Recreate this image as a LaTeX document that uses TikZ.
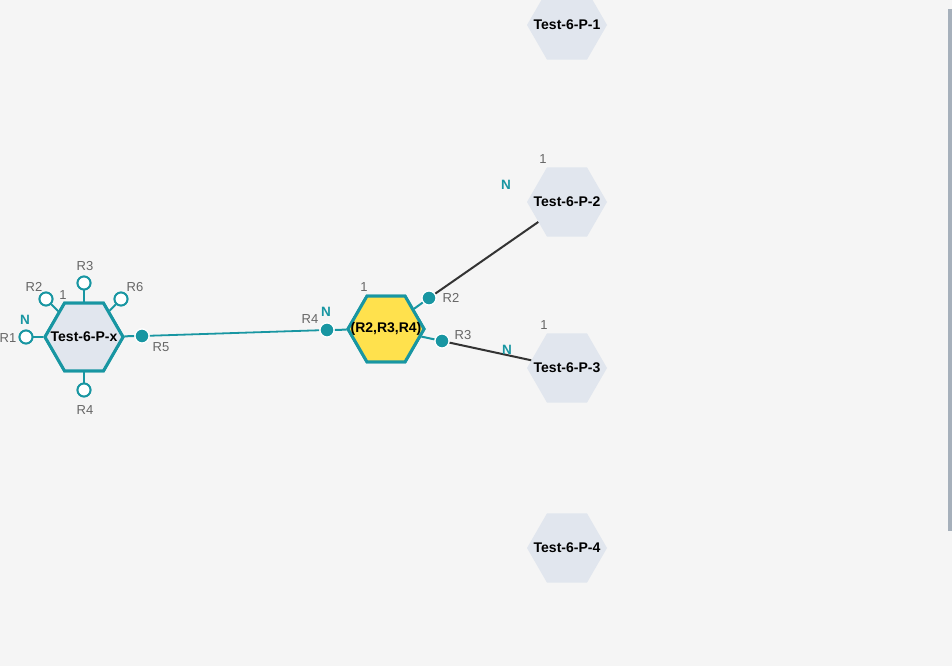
\documentclass[tikz,border=0pt]{standalone}
\usepackage{fontspec}
\setmainfont{Liberation Sans}
\usetikzlibrary{shapes.geometric}
\definecolor{bg}{HTML}{F5F5F5}
\definecolor{teal}{HTML}{1896A2}
\definecolor{hexfill}{HTML}{E1E6EE}
\definecolor{ylw}{HTML}{FFE14D}
\definecolor{graytxt}{HTML}{666666}
\definecolor{linkdark}{HTML}{333333}
\definecolor{scroll}{HTML}{A6B0BB}
\tikzset{
  hexbase/.style={regular polygon, regular polygon sides=6, minimum size=78pt, inner sep=0pt},
  ghosthex/.style={hexbase, fill=hexfill, minimum size=80pt},
  mainhex/.style={hexbase, fill=hexfill, draw=teal, line width=3pt},
  yhex/.style={hexbase, fill=ylw, draw=teal, line width=3pt, minimum size=76pt},
  hextext/.style={font=\fontsize{14}{16}\selectfont\bfseries, text=black, inner sep=0pt},
  pinopen/.style={circle, draw=teal, fill=white, line width=1.9pt, minimum size=13pt, inner sep=0pt},
  pindot/.style={circle, draw=white, fill=teal, line width=1.2pt, minimum size=14pt, inner sep=0pt},
  gtxt/.style={font=\fontsize{13}{15}\selectfont, text=graytxt, inner sep=0pt},
  ntxt/.style={font=\fontsize{13.5}{15}\selectfont\bfseries, text=teal, inner sep=0pt},
  stub/.style={draw=teal, line width=2pt},
  tlink/.style={draw=teal, line width=1.8pt},
  dlink/.style={draw=linkdark, line width=2pt},
}
\begin{document}
\begin{tikzpicture}[x=1pt,y=-1pt]
\fill[bg] (0,0) rectangle (952,666);
\useasboundingbox (0,0) rectangle (952,666);
\fill[scroll] (948,9) rectangle (952,531);

% ghost hexagons
\begin{scope}
\clip (0,0) rectangle (952,666);
\node[ghosthex] (p1) at (567,25) {};
\end{scope}
\node[hextext] at (p1.center) {Test-6-P-1};
\node[ghosthex] (p2) at (567,202) {};
\node[hextext] at (p2.center) {Test-6-P-2};
\node[ghosthex] (p3) at (567,368) {};
\node[hextext] at (p3.center) {Test-6-P-3};
\node[ghosthex] (p4) at (567,548) {};
\node[hextext] at (p4.center) {Test-6-P-4};
\node[gtxt] (p2one) at (543,159) {1};
\node[ntxt] (p2n) at (506,185) {N};
\node[gtxt] (p3one) at (544,325) {1};

% Test-6-P-x
\node[mainhex] (px) at (84,337) {};
\node[pinopen] (r1) at (26,337) {};
\node[pinopen] (r2) at (46,299) {};
\node[pinopen] (r3) at (84,283) {};
\node[pinopen] (r6) at (121,299) {};
\node[pinopen] (r4) at (84,390) {};
\node[pindot] (r5) at (142,336) {};

% yellow hexagon
\node[yhex] (y) at (386,329) {};
\node[pindot] (yr4) at (327,330) {};
\node[pindot] (yr2) at (429,298) {};
\node[pindot] (yr3) at (442,341) {};

% stubs
\draw[stub] (px) -- (r1);
\draw[stub] (px) -- (r2);
\draw[stub] (px) -- (r3);
\draw[stub] (px) -- (r6);
\draw[stub] (px) -- (r4);
\draw[stub] (px) -- (r5);
\draw[stub] (y) -- (yr4);
\draw[stub] (y) -- (yr2);
\draw[stub] (y) -- (yr3);

% links
\draw[tlink] (r5) -- (yr4);
\draw[dlink] (yr2) -- (p2);
\draw[dlink] (yr3) -- (p3);

% redraw hex borders and pins on top
\node[mainhex] at (84,337) {};
\node[hextext] at (px.center) {Test-6-P-x};
\node[yhex] at (386,329) {};
\node[hextext] at (y.center) {(R2,R3,R4)};
\node[pinopen] at (r1.center) {};
\node[pinopen] at (r2.center) {};
\node[pinopen] at (r3.center) {};
\node[pinopen] at (r6.center) {};
\node[pinopen] at (r4.center) {};
\node[pindot] at (r5.center) {};
\node[pindot] at (yr4.center) {};
\node[pindot] at (yr2.center) {};
\node[pindot] at (yr3.center) {};

% labels
\node[gtxt] (lr1) at (8,338) {R1};
\node[gtxt] (lr2) at (34,287) {R2};
\node[gtxt] (lr3) at (85,266) {R3};
\node[gtxt] (lr6) at (135,287) {R6};
\node[gtxt] (lr4) at (85,410) {R4};
\node[gtxt] (lr5) at (161,347) {R5};
\node[gtxt] (pxone) at (63,295) {1};
\node[ntxt] (pxn) at (25,320) {N};

\node[gtxt] (ylr4) at (310,319) {R4};
\node[ntxt] (yn) at (326,312) {N};
\node[gtxt] (yone) at (364,287) {1};
\node[gtxt] (ylr2) at (451,298) {R2};
\node[gtxt] (ylr3) at (463,335) {R3};
\node[ntxt] (p3n) at (507,350) {N};
\end{tikzpicture}
\end{document}
